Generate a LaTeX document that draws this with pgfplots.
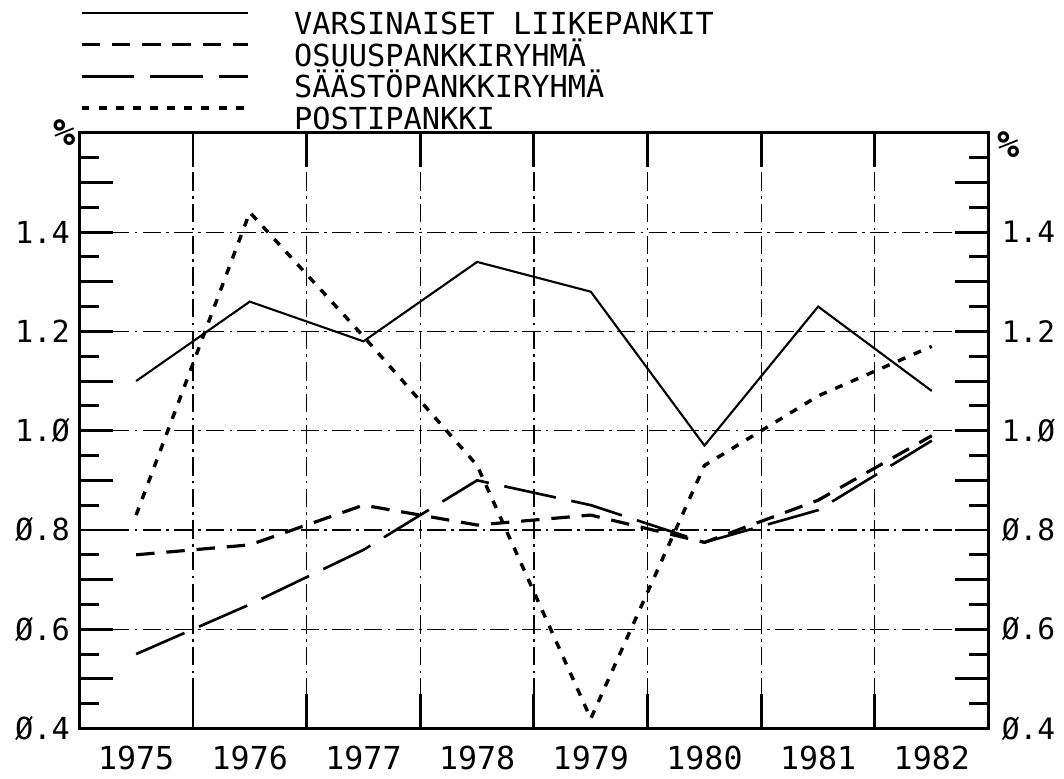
\documentclass[border=0pt]{standalone}
\usepackage{fontspec}
\setmainfont{DejaVu Sans Mono}
\usepackage{pgfplots}
\usepackage{pgfplotstable}
\pgfplotsset{compat=1.18}

\pgfplotstableread{
year var osu saa post
1975 1.10 0.75 0.55 0.83
1976 1.26 0.77 0.65 1.44
1977 1.18 0.85 0.76 1.19
1978 1.34 0.81 0.90 0.93
1979 1.28 0.83 0.85 0.42
1980 0.97 0.775 0.775 0.93
1981 1.25 0.86 0.84 1.07
1982 1.08 0.99 0.98 1.17
}\data

\begin{document}
\begin{tikzpicture}
\begin{axis}[
  scale only axis, width=345pt, height=226pt,
  clip=false,
  xmin=1974.5, xmax=1982.5, ymin=0.4, ymax=1.6,
  tick align=inside, tick pos=both,
  xtick={1975.5,1976.5,...,1981.5}, xticklabels={},
  xmajorgrids=true,
  extra x ticks={1975,1976,...,1982},
  extra x tick labels={1975,1976,1977,1978,1979,1980,1981,1982},
  extra x tick style={major tick length=0pt, grid=none},
  xticklabel style={font=\fontsize{12}{12}\selectfont, yshift=-3pt},
  ytick={0.4,0.5,...,1.61},
  yticklabels={Ø.4,,Ø.6,,Ø.8,,1.Ø,,1.2,,1.4,,},
  minor y tick num=1,
  extra y ticks={0.6,0.8,1.0,1.2,1.4},
  extra y tick labels={},
  extra y tick style={grid=major},
  yticklabel style={font=\fontsize{11.5}{11.5}\selectfont},
  major tick length=13pt, minor tick length=7.5pt,
  tick style={line width=1.1pt, black},
  major grid style={line width=0.45pt, black, dash pattern=on 7pt off 2pt on 1pt off 2pt},
  axis line style={line width=1.1pt},
  legend style={draw=none, fill=none, at={(0,1)}, anchor=south west, yshift=1pt,
    inner sep=0pt, row sep=3.3pt, column sep=17pt,
    nodes={inner sep=0pt, text height=8.3pt, text depth=0pt},
    font=\fontsize{11.5}{12}\selectfont},
  legend cell align=left,
  legend image code/.code={\draw[#1] (0pt,4pt) -- (63pt,4pt);},
]
\path (rel axis cs:-0.0872,-0.0832) rectangle (rel axis cs:1.073,1.223);
\addplot[black, line width=0.8pt] table[x=year,y=var] {\data};
\addlegendentry{VARSINAISET LIIKEPANKIT}
\addplot[black, line width=1.2pt, dash pattern=on 7pt off 4.5pt] table[x=year,y=osu] {\data};
\addlegendentry{OSUUSPANKKIRYHMÄ}
\addplot[black, line width=1.0pt, dash pattern=on 20pt off 6pt] table[x=year,y=saa] {\data};
\addlegendentry{SÄÄSTÖPANKKIRYHMÄ}
\addplot[black, line width=1.3pt, dash pattern=on 3pt off 3.5pt] table[x=year,y=post] {\data};
\addlegendentry{POSTIPANKKI}
\node[anchor=east, font=\bfseries\fontsize{14}{14}\selectfont, inner sep=1pt] at (rel axis cs:0,1) {\%};
\node[anchor=west, font=\bfseries\fontsize{14}{14}\selectfont, inner sep=3pt] at (rel axis cs:1,0.98) {\%};
\end{axis}
\begin{axis}[
  scale only axis, width=345pt, height=226pt,
  xmin=1974.5, xmax=1982.5, ymin=0.4, ymax=1.6,
  hide x axis,
  axis y line*=right,
  y axis line style={draw=none},
  ytick={0.4,0.6,...,1.41},
  yticklabels={Ø.4,Ø.6,Ø.8,1.Ø,1.2,1.4},
  ytick style={draw=none},
  yticklabel style={font=\fontsize{11.2}{11.2}\selectfont, xshift=1.5pt},
]
\end{axis}
\end{tikzpicture}
\end{document}
